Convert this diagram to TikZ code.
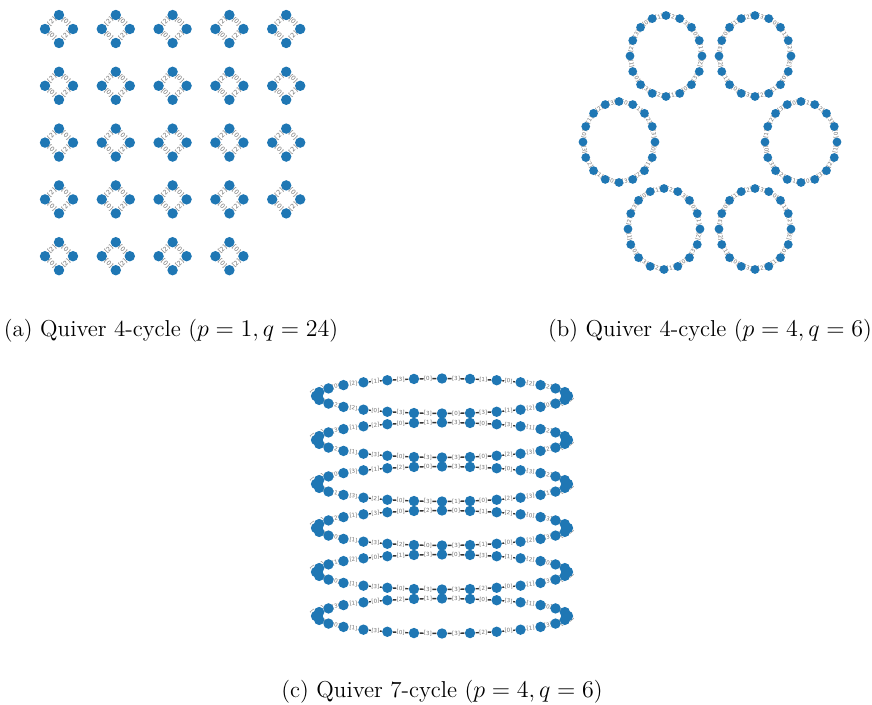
\documentclass[tikz,border=0pt]{standalone}
\usepackage{amsmath}
\usepackage{fontspec}
\newfontfamily\lblfont{DejaVu Sans}
\usepackage{tikz}
\usetikzlibrary{calc}
\definecolor{nxblue}{HTML}{1F77B4}
\pgfdeclarelayer{edges}
\pgfsetlayers{edges,main}

\begin{document}
\begin{tikzpicture}[x=0.5pt, y=-0.5pt,
    vtx/.style={circle, fill=nxblue, draw=none, inner sep=0pt, minimum size=5.2pt},
    edg/.style={draw=black!80, line width=0.7pt},
    elab/.style={sloped, midway, fill=white, inner sep=0.2pt, text=black!55,
      font=\lblfont\fontsize{2.8}{3}\selectfont},
    caption/.style={anchor=base, font=\fontsize{11.5}{13}\selectfont}]
    \useasboundingbox (0,0) rectangle (872,705);
    % (a) 24 separate 4-cycles
    \foreach \i in {0,...,23} {
      \pgfmathsetmacro\cx{59+56.8*mod(\i,5)}
      \pgfmathsetmacro\cy{29+56.8*div(\i,5)}
      \node[vtx] (a\i-0) at (\cx,\cy-14) {};
      \node[vtx] (a\i-1) at (\cx+14,\cy) {};
      \node[vtx] (a\i-2) at (\cx,\cy+14) {};
      \node[vtx] (a\i-3) at (\cx-14,\cy) {};
      \begin{pgfonlayer}{edges}
        \draw[edg] (a\i-0) -- node[elab, font=\lblfont\fontsize{3.2}{3.4}\selectfont] {[0]} (a\i-1);
        \draw[edg] (a\i-1) -- node[elab, font=\lblfont\fontsize{3.2}{3.4}\selectfont] {[2]} (a\i-2);
        \draw[edg] (a\i-2) -- node[elab, font=\lblfont\fontsize{3.2}{3.4}\selectfont] {[0]} (a\i-3);
        \draw[edg] (a\i-3) -- node[elab, font=\lblfont\fontsize{3.2}{3.4}\selectfont] {[2]} (a\i-0);
      \end{pgfonlayer}
    }
    % (b) six rings of 16
    \foreach \r/\cx/\cy in {1/666/56, 2/755/56, 3/619/142, 4/801/142, 5/664/229, 6/755/229} {
      \foreach \k in {0,...,15}
        \node[vtx, minimum size=4.4pt] (b\r-\k) at ({\cx+36*cos(90+22.5*\k)}, {\cy-40.5*sin(90+22.5*\k)}) {};
      \begin{pgfonlayer}{edges}
        \foreach \k in {0,...,15} {
          \pgfmathtruncatemacro\nk{mod(\k+1,16)}
          \pgfmathtruncatemacro\lb{mod(3*\k+\r,4)}
          \draw[edg] (b\r-\k) -- node[elab] {[\lb]} (b\r-\nk);
        }
      \end{pgfonlayer}
    }
    % (c) six rings of 28, squashed
    \foreach \labs [count=\j] in {
        {0,3,1,2,0,1,3,0,2,2,2,0,3,3,0,3,1,2,0,3,1,2,0,2,2,0,1,3},
        {1,0,2,1,3,2,0,1,3,2,1,3,0,3,3,0,2,3,2,0,1,3,0,2,1,3,0,3},
        {0,2,1,3,0,1,2,3,0,1,3,2,0,3,1,0,2,3,1,0,2,3,1,2,3,0,3,3},
        {2,0,3,1,2,3,0,1,2,0,1,3,2,0,3,1,0,2,3,1,0,2,1,3,0,2,1,0},
        {3,1,0,2,1,0,3,2,1,0,1,3,0,3,3,2,0,1,3,2,0,1,3,0,2,1,3,0},
        {1,2,0,1,3,2,0,1,3,0,1,3,0,3,3,2,0,1,3,1,2,0,3,0,1,3,0,3}} {
      \pgfmathsetmacro\cy{396+44*(\j-1)}
      \foreach \k in {0,...,27}
        \node[vtx] (c\j-\k) at ({442+126*cos(90+360/28*\k)}, {\cy-17.5*sin(90+360/28*\k)}) {};
      \begin{pgfonlayer}{edges}
        \foreach \l [count=\k from 0] in \labs {
          \pgfmathtruncatemacro\nk{mod(\k+1,28)}
          \draw[edg] (c\j-\k) -- node[elab] {[\l]} (c\j-\nk);
        }
      \end{pgfonlayer}
    }
    \node[caption] (capa) at (171,337) {(a) Quiver 4-cycle ($p=1,q=24$)};
    \node[caption] (capb) at (710,337) {(b) Quiver 4-cycle ($p=4,q=6$)};
    \node[caption] (capc) at (442,697) {(c) Quiver 7-cycle ($p=4,q=6$)};
\end{tikzpicture}
\end{document}
